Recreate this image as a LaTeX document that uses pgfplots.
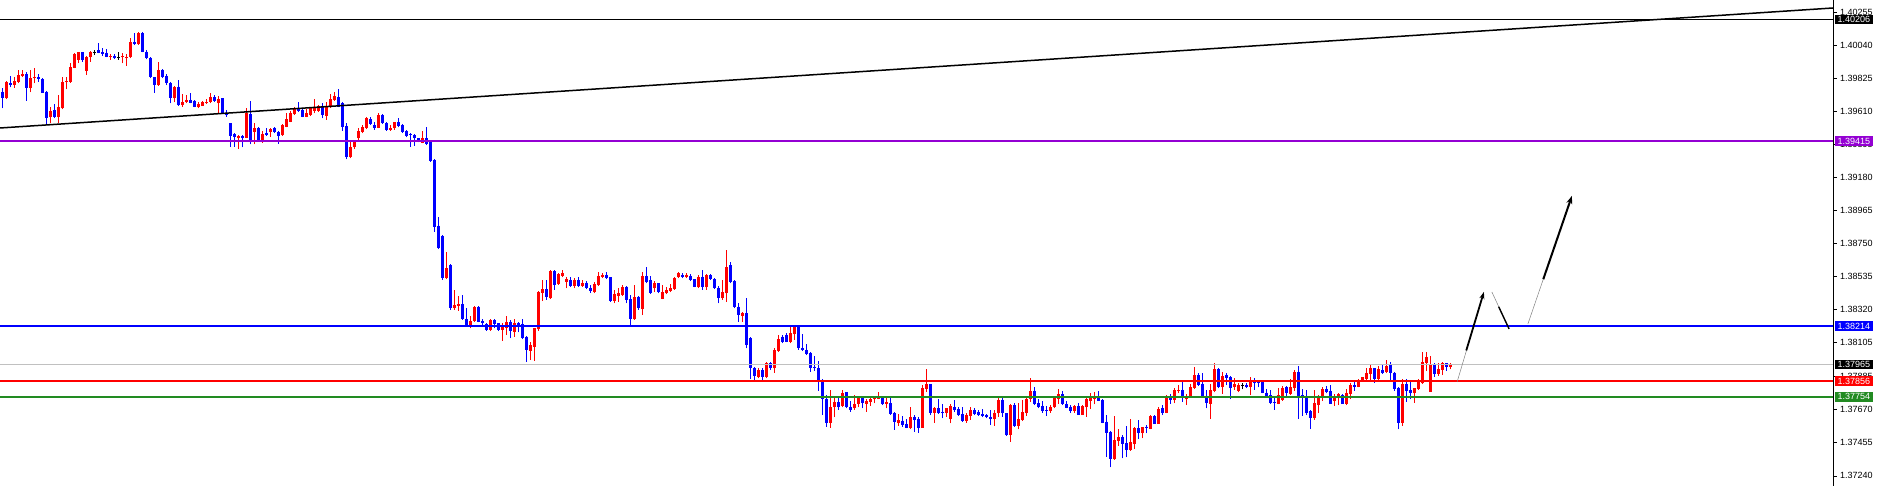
\documentclass[border=0pt]{standalone}
\usepackage{fontspec}
\setmainfont{Liberation Sans}
\usepackage{pgfplots}
\usepackage{pgfplotstable}
\pgfplotsset{compat=1.18}
\usetikzlibrary{arrows.meta}
\definecolor{mtblue}{RGB}{0,0,255}
\definecolor{mtred}{RGB}{255,0,0}
\definecolor{mtpurple}{RGB}{148,0,211}
\definecolor{mtgreen}{RGB}{34,139,34}
\definecolor{mtsilver}{RGB}{192,192,192}

\pgfplotstableread{
x o h l c
0 1.39737 1.39759 1.39629 1.39698
1 1.39694 1.39806 1.39689 1.39802
2 1.39791 1.39839 1.39765 1.39778
3 1.39780 1.39830 1.39763 1.39806
4 1.39802 1.39878 1.39791 1.39845
5 1.39839 1.39878 1.39830 1.39852
6 1.39852 1.39867 1.39679 1.39763
7 1.39763 1.39878 1.39733 1.39828
8 1.39824 1.39893 1.39791 1.39835
9 1.39830 1.39852 1.39802 1.39822
10 1.39819 1.39824 1.39731 1.39731
11 1.39737 1.39744 1.39527 1.39564
12 1.39570 1.39635 1.39531 1.39614
13 1.39618 1.39655 1.39564 1.39570
14 1.39570 1.39715 1.39531 1.39635
15 1.39629 1.39835 1.39622 1.39802
16 1.39798 1.39830 1.39752 1.39809
17 1.39802 1.39921 1.39796 1.39900
18 1.39893 1.39986 1.39889 1.39980
19 1.39943 1.39997 1.39921 1.39993
20 1.39993 1.39997 1.39932 1.39943
21 1.39874 1.39969 1.39845 1.39965
22 1.39960 1.40001 1.39932 1.39997
24 1.40008 1.40056 1.39986 1.39986
25 1.39993 1.40019 1.39969 1.39982
26 1.39991 1.40012 1.39960 1.39965
27 1.39965 1.39980 1.39943 1.39971
28 1.39969 1.39980 1.39949 1.39958
30 1.39960 1.39986 1.39921 1.39969
31 1.39954 1.39980 1.39906 1.39965
32 1.39960 1.40084 1.39954 1.40062
33 1.40060 1.40116 1.40040 1.40047
34 1.40045 1.40123 1.40040 1.40116
35 1.40116 1.40123 1.39993 1.39997
36 1.39997 1.40008 1.39947 1.39954
37 1.39958 1.39965 1.39824 1.39830
38 1.39830 1.39835 1.39731 1.39780
39 1.39780 1.39932 1.39774 1.39878
40 1.39878 1.39884 1.39824 1.39835
41 1.39839 1.39852 1.39780 1.39796
42 1.39796 1.39802 1.39661 1.39694
43 1.39694 1.39774 1.39668 1.39765
44 1.39770 1.39813 1.39644 1.39650
45 1.39650 1.39722 1.39640 1.39672
46 1.39668 1.39715 1.39661 1.39683
47 1.39683 1.39731 1.39661 1.39666
48 1.39679 1.39683 1.39635 1.39640
49 1.39635 1.39672 1.39629 1.39657
50 1.39646 1.39676 1.39644 1.39672
51 1.39666 1.39687 1.39657 1.39672
52 1.39670 1.39726 1.39661 1.39700
53 1.39700 1.39715 1.39672 1.39676
54 1.39661 1.39711 1.39596 1.39692
55 1.39694 1.39698 1.39590 1.39596
56 1.39596 1.39618 1.39575 1.39585
57 1.39531 1.39536 1.39380 1.39449
58 1.39460 1.39466 1.39380 1.39440
59 1.39434 1.39455 1.39364 1.39449
60 1.39449 1.39455 1.39375 1.39438
61 1.39438 1.39629 1.39434 1.39596
62 1.39590 1.39679 1.39395 1.39423
63 1.39477 1.39531 1.39395 1.39503
64 1.39503 1.39510 1.39423 1.39423
65 1.39419 1.39484 1.39406 1.39462
66 1.39466 1.39499 1.39449 1.39455
67 1.39477 1.39499 1.39445 1.39494
68 1.39503 1.39510 1.39471 1.39477
69 1.39473 1.39481 1.39397 1.39449
70 1.39455 1.39527 1.39449 1.39520
71 1.39510 1.39596 1.39505 1.39557
72 1.39542 1.39611 1.39538 1.39596
73 1.39590 1.39635 1.39585 1.39622
74 1.39622 1.39670 1.39607 1.39611
75 1.39618 1.39622 1.39570 1.39570
76 1.39575 1.39624 1.39570 1.39596
77 1.39585 1.39640 1.39579 1.39635
78 1.39614 1.39689 1.39596 1.39640
79 1.39614 1.39650 1.39607 1.39644
80 1.39644 1.39666 1.39564 1.39585
81 1.39579 1.39672 1.39553 1.39644
82 1.39640 1.39720 1.39633 1.39687
83 1.39683 1.39733 1.39679 1.39709
84 1.39700 1.39752 1.39635 1.39640
85 1.39661 1.39668 1.39484 1.39505
86 1.39514 1.39531 1.39297 1.39310
87 1.39310 1.39423 1.39304 1.39380
88 1.39375 1.39423 1.39364 1.39412
89 1.39434 1.39499 1.39423 1.39484
90 1.39477 1.39520 1.39466 1.39510
91 1.39499 1.39575 1.39492 1.39564
92 1.39559 1.39575 1.39520 1.39527
93 1.39520 1.39542 1.39488 1.39499
94 1.39503 1.39596 1.39499 1.39585
95 1.39585 1.39590 1.39527 1.39531
96 1.39531 1.39538 1.39484 1.39488
97 1.39488 1.39520 1.39484 1.39503
98 1.39499 1.39542 1.39488 1.39538
99 1.39538 1.39564 1.39505 1.39514
100 1.39520 1.39525 1.39471 1.39473
101 1.39484 1.39488 1.39440 1.39449
102 1.39462 1.39466 1.39380 1.39453
103 1.39455 1.39460 1.39386 1.39434
104 1.39434 1.39438 1.39408 1.39412
105 1.39406 1.39484 1.39401 1.39434
106 1.39434 1.39510 1.39390 1.39395
107 1.39412 1.39423 1.39282 1.39286
108 1.39293 1.39299 1.38827 1.38860
109 1.38866 1.38925 1.38714 1.38719
110 1.38799 1.38805 1.38513 1.38528
111 1.38524 1.38697 1.38519 1.38589
112 1.38610 1.38615 1.38318 1.38329
113 1.38333 1.38448 1.38318 1.38350
114 1.38344 1.38409 1.38314 1.38357
115 1.38357 1.38415 1.38253 1.38257
116 1.38259 1.38329 1.38210 1.38220
117 1.38214 1.38281 1.38199 1.38249
118 1.38249 1.38346 1.38242 1.38340
119 1.38340 1.38346 1.38238 1.38242
120 1.38246 1.38257 1.38210 1.38231
121 1.38225 1.38231 1.38184 1.38188
122 1.38188 1.38259 1.38181 1.38253
123 1.38253 1.38257 1.38199 1.38225
124 1.38231 1.38236 1.38181 1.38188
125 1.38188 1.38231 1.38119 1.38210
126 1.38199 1.38281 1.38155 1.38242
127 1.38242 1.38253 1.38134 1.38181
128 1.38177 1.38259 1.38145 1.38236
129 1.38236 1.38242 1.38173 1.38210
130 1.38225 1.38259 1.38127 1.38134
131 1.38145 1.38149 1.37982 1.38058
132 1.38054 1.38112 1.37993 1.38090
133 1.38080 1.38203 1.37989 1.38199
134 1.38192 1.38444 1.38184 1.38437
135 1.38431 1.38513 1.38376 1.38454
136 1.38452 1.38513 1.38383 1.38405
137 1.38394 1.38578 1.38389 1.38571
138 1.38571 1.38578 1.38448 1.38480
139 1.38485 1.38556 1.38480 1.38550
140 1.38539 1.38578 1.38530 1.38556
141 1.38502 1.38535 1.38459 1.38517
142 1.38513 1.38535 1.38470 1.38476
143 1.38474 1.38524 1.38459 1.38513
144 1.38513 1.38535 1.38470 1.38476
145 1.38476 1.38513 1.38470 1.38496
146 1.38496 1.38509 1.38452 1.38459
147 1.38463 1.38480 1.38431 1.38441
148 1.38433 1.38502 1.38426 1.38487
149 1.38480 1.38563 1.38474 1.38539
150 1.38535 1.38561 1.38524 1.38545
151 1.38545 1.38563 1.38519 1.38524
152 1.38530 1.38535 1.38372 1.38379
153 1.38379 1.38448 1.38361 1.38422
154 1.38409 1.38459 1.38372 1.38426
155 1.38415 1.38480 1.38411 1.38470
156 1.38470 1.38474 1.38361 1.38383
157 1.38389 1.38415 1.38220 1.38259
158 1.38257 1.38480 1.38253 1.38400
159 1.38405 1.38409 1.38318 1.38329
160 1.38324 1.38567 1.38285 1.38539
161 1.38539 1.38595 1.38491 1.38502
162 1.38513 1.38541 1.38422 1.38426
163 1.38459 1.38506 1.38433 1.38496
164 1.38491 1.38496 1.38426 1.38433
165 1.38389 1.38480 1.38387 1.38433
166 1.38426 1.38470 1.38420 1.38448
167 1.38441 1.38487 1.38433 1.38459
168 1.38452 1.38530 1.38448 1.38524
169 1.38530 1.38563 1.38524 1.38556
170 1.38545 1.38561 1.38524 1.38535
171 1.38530 1.38556 1.38524 1.38545
172 1.38539 1.38552 1.38506 1.38513
173 1.38517 1.38522 1.38465 1.38470
174 1.38465 1.38545 1.38459 1.38535
175 1.38535 1.38578 1.38448 1.38465
176 1.38465 1.38552 1.38448 1.38545
177 1.38545 1.38552 1.38513 1.38519
178 1.38519 1.38524 1.38454 1.38459
179 1.38459 1.38474 1.38361 1.38394
180 1.38394 1.38513 1.38383 1.38437
181 1.38426 1.38708 1.38372 1.38600
182 1.38610 1.38632 1.38491 1.38502
183 1.38506 1.38513 1.38329 1.38340
184 1.38340 1.38366 1.38242 1.38285
185 1.38281 1.38303 1.38242 1.38296
186 1.38296 1.38394 1.38069 1.38090
187 1.38134 1.38145 1.37869 1.37939
188 1.37939 1.37950 1.37863 1.37891
189 1.37885 1.37939 1.37874 1.37928
190 1.37928 1.37939 1.37863 1.37885
191 1.37885 1.37982 1.37874 1.37971
192 1.37971 1.37982 1.37928 1.37939
193 1.37939 1.38069 1.37911 1.38058
194 1.38054 1.38155 1.38047 1.38129
195 1.38145 1.38155 1.38101 1.38108
196 1.38155 1.38166 1.38108 1.38112
197 1.38112 1.38220 1.38101 1.38166
198 1.38160 1.38220 1.38123 1.38210
199 1.38210 1.38220 1.38058 1.38069
200 1.38069 1.38162 1.38051 1.38058
201 1.38058 1.38097 1.38025 1.38032
202 1.38041 1.38047 1.37917 1.37943
203 1.37950 1.38019 1.37924 1.37943
204 1.37939 1.37986 1.37794 1.37863
205 1.37856 1.37867 1.37635 1.37737
206 1.37737 1.37765 1.37560 1.37586
207 1.37586 1.37798 1.37553 1.37685
208 1.37685 1.37750 1.37620 1.37718
209 1.37718 1.37748 1.37668 1.37690
210 1.37694 1.37798 1.37685 1.37776
211 1.37783 1.37787 1.37679 1.37685
212 1.37690 1.37729 1.37657 1.37668
213 1.37679 1.37765 1.37668 1.37707
214 1.37707 1.37761 1.37685 1.37750
215 1.37748 1.37755 1.37679 1.37716
216 1.37707 1.37739 1.37657 1.37726
217 1.37722 1.37750 1.37694 1.37737
218 1.37737 1.37761 1.37711 1.37748
219 1.37742 1.37783 1.37737 1.37750
220 1.37750 1.37755 1.37700 1.37705
221 1.37707 1.37748 1.37679 1.37722
222 1.37711 1.37748 1.37635 1.37642
223 1.37646 1.37657 1.37538 1.37588
224 1.37581 1.37642 1.37564 1.37603
225 1.37599 1.37629 1.37560 1.37570
226 1.37577 1.37607 1.37549 1.37553
227 1.37549 1.37685 1.37542 1.37625
228 1.37625 1.37635 1.37527 1.37603
229 1.37609 1.37625 1.37521 1.37553
230 1.37553 1.37830 1.37553 1.37809
231 1.37804 1.37932 1.37787 1.37835
232 1.37835 1.37837 1.37635 1.37646
233 1.37651 1.37690 1.37586 1.37683
234 1.37679 1.37737 1.37642 1.37651
235 1.37657 1.37707 1.37614 1.37651
236 1.37651 1.37683 1.37625 1.37679
237 1.37607 1.37705 1.37581 1.37694
238 1.37690 1.37733 1.37657 1.37668
239 1.37674 1.37690 1.37629 1.37635
240 1.37642 1.37685 1.37592 1.37599
241 1.37599 1.37646 1.37586 1.37635
242 1.37631 1.37690 1.37603 1.37668
243 1.37668 1.37679 1.37635 1.37642
244 1.37653 1.37668 1.37629 1.37635
245 1.37642 1.37672 1.37620 1.37629
246 1.37633 1.37640 1.37614 1.37620
247 1.37625 1.37668 1.37570 1.37607
248 1.37607 1.37668 1.37564 1.37646
249 1.37646 1.37744 1.37625 1.37733
250 1.37733 1.37744 1.37625 1.37646
251 1.37646 1.37651 1.37499 1.37505
252 1.37505 1.37705 1.37462 1.37700
253 1.37700 1.37711 1.37560 1.37564
254 1.37564 1.37716 1.37542 1.37609
255 1.37603 1.37733 1.37596 1.37653
256 1.37651 1.37750 1.37629 1.37739
257 1.37737 1.37874 1.37722 1.37794
258 1.37794 1.37815 1.37700 1.37707
259 1.37711 1.37739 1.37679 1.37690
260 1.37694 1.37726 1.37651 1.37664
261 1.37668 1.37694 1.37629 1.37661
262 1.37664 1.37700 1.37651 1.37690
263 1.37685 1.37748 1.37679 1.37744
264 1.37739 1.37804 1.37707 1.37770
265 1.37770 1.37794 1.37700 1.37707
266 1.37707 1.37726 1.37679 1.37683
267 1.37690 1.37700 1.37651 1.37664
268 1.37661 1.37700 1.37651 1.37694
269 1.37694 1.37711 1.37635 1.37635
270 1.37635 1.37700 1.37635 1.37694
271 1.37685 1.37744 1.37625 1.37737
272 1.37726 1.37776 1.37674 1.37750
273 1.37739 1.37787 1.37705 1.37750
274 1.37755 1.37794 1.37726 1.37729
275 1.37733 1.37737 1.37581 1.37586
276 1.37592 1.37635 1.37365 1.37521
277 1.37527 1.37534 1.37295 1.37349
278 1.37349 1.37629 1.37343 1.37473
279 1.37469 1.37542 1.37436 1.37495
280 1.37495 1.37505 1.37354 1.37447
281 1.37451 1.37564 1.37360 1.37408
282 1.37408 1.37609 1.37404 1.37458
283 1.37447 1.37560 1.37414 1.37549
284 1.37549 1.37603 1.37479 1.37516
285 1.37521 1.37560 1.37484 1.37555
286 1.37560 1.37570 1.37516 1.37549
287 1.37544 1.37635 1.37542 1.37629
288 1.37629 1.37635 1.37577 1.37577
289 1.37577 1.37685 1.37577 1.37674
290 1.37679 1.37700 1.37635 1.37651
291 1.37651 1.37765 1.37646 1.37750
292 1.37750 1.37772 1.37707 1.37733
293 1.37733 1.37809 1.37711 1.37798
294 1.37791 1.37830 1.37776 1.37798
295 1.37798 1.37852 1.37722 1.37744
296 1.37737 1.37772 1.37700 1.37761
297 1.37755 1.37837 1.37750 1.37815
298 1.37813 1.37950 1.37804 1.37895
299 1.37895 1.37911 1.37826 1.37830
300 1.37835 1.37911 1.37748 1.37755
301 1.37761 1.37798 1.37679 1.37711
302 1.37707 1.37835 1.37609 1.37798
303 1.37794 1.37976 1.37783 1.37934
304 1.37934 1.37939 1.37809 1.37815
305 1.37820 1.37917 1.37772 1.37889
306 1.37895 1.37911 1.37830 1.37874
307 1.37880 1.37889 1.37739 1.37813
308 1.37815 1.37874 1.37798 1.37837
309 1.37794 1.37841 1.37783 1.37830
311 1.37830 1.37846 1.37809 1.37815
312 1.37820 1.37880 1.37765 1.37852
313 1.37852 1.37874 1.37798 1.37846
314 1.37852 1.37863 1.37815 1.37846
315 1.37852 1.37863 1.37776 1.37781
316 1.37781 1.37802 1.37750 1.37761
317 1.37765 1.37798 1.37707 1.37716
318 1.37722 1.37755 1.37668 1.37716
319 1.37707 1.37813 1.37705 1.37765
320 1.37733 1.37824 1.37729 1.37813
321 1.37815 1.37824 1.37759 1.37776
322 1.37772 1.37867 1.37765 1.37815
323 1.37809 1.37928 1.37794 1.37917
324 1.37917 1.37954 1.37609 1.37755
325 1.37765 1.37802 1.37629 1.37755
326 1.37755 1.37798 1.37635 1.37651
327 1.37661 1.37668 1.37544 1.37618
328 1.37618 1.37798 1.37603 1.37711
329 1.37700 1.37765 1.37646 1.37755
330 1.37755 1.37815 1.37726 1.37802
331 1.37802 1.37824 1.37776 1.37787
332 1.37794 1.37830 1.37707 1.37707
333 1.37726 1.37770 1.37694 1.37755
334 1.37755 1.37781 1.37700 1.37770
335 1.37765 1.37772 1.37707 1.37707
336 1.37707 1.37802 1.37700 1.37776
337 1.37770 1.37841 1.37739 1.37830
338 1.37828 1.37859 1.37794 1.37820
339 1.37820 1.37869 1.37815 1.37852
340 1.37863 1.37885 1.37852 1.37880
341 1.37869 1.37939 1.37859 1.37911
342 1.37902 1.37960 1.37863 1.37939
343 1.37939 1.37943 1.37846 1.37869
344 1.37869 1.37954 1.37863 1.37934
345 1.37928 1.37967 1.37902 1.37911
346 1.37913 1.37993 1.37906 1.37954
347 1.37960 1.37982 1.37863 1.37911
348 1.37911 1.37917 1.37794 1.37804
349 1.37813 1.37820 1.37542 1.37586
350 1.37586 1.37867 1.37564 1.37835
351 1.37837 1.37867 1.37722 1.37791
352 1.37798 1.37852 1.37737 1.37776
353 1.37776 1.37813 1.37716 1.37809
354 1.37802 1.37869 1.37798 1.37859
355 1.37841 1.38047 1.37837 1.37978
356 1.37976 1.38043 1.37921 1.38010
357 1.37787 1.38019 1.37787 1.37967
358 1.37965 1.37976 1.37885 1.37902
359 1.37902 1.37971 1.37889 1.37932
360 1.37928 1.37978 1.37895 1.37971
361 1.37971 1.37976 1.37924 1.37950
362 1.37950 1.37976 1.37932 1.37965
}\candles

\pgfplotstableread{
x o h l c
23 1.39993 1.40008 1.39975 1.39993
29 1.39958 1.39997 1.39943 1.39958
310 1.37826 1.37846 1.37802 1.37826
}\dojis

\pgfplotsset{
  upc/.style={x filter/.expression={\thisrow{c}>\thisrow{o} ? x : nan}},
  dnc/.style={x filter/.expression={\thisrow{c}<\thisrow{o} ? x : nan}},
}

\tikzset{lvl/.style={anchor=west, text=white, font=\fontsize{9}{10}\selectfont,
  inner xsep=3pt, inner ysep=1.6pt, xshift=1.5pt}}

\begin{document}
\begin{tikzpicture}
\useasboundingbox (0,0) rectangle (1880pt,486pt);
\begin{axis}[
  at={(0,0)}, anchor=south west,
  scale only axis, width=1833pt, height=486pt,
  xmin=-0.575, xmax=457.675, ymin=1.37174, ymax=1.40333,
  axis x line=none, axis y line*=right,
  axis line style={black, line width=0.8pt, -},
  ytick={1.37240,1.37455,1.37670,1.37885,1.38105,1.38320,1.38535,1.38750,1.38965,1.39180,1.39395,1.39610,1.39825,1.40040,1.40255},
  yticklabels={1.37240,1.37455,1.37670,1.37885,1.38105,1.38320,1.38535,1.38750,1.38965,1.39180,1.39395,1.39610,1.39825,1.40040,1.40255},
  tick align=outside, major tick length=4pt,
  ytick style={black, line width=0.6pt},
  yticklabel style={font=\fontsize{9}{10}\selectfont, anchor=west, inner sep=0pt, xshift=3pt},
  clip=false,
]
% wicks
\addplot[mtred, line width=1pt, quiver={u=0, v=\thisrow{h}-\thisrow{l}}, upc] table[x=x, y=l] {\candles};
\addplot[mtblue, line width=1pt, quiver={u=0, v=\thisrow{h}-\thisrow{l}}, dnc] table[x=x, y=l] {\candles};
% bodies
\addplot[mtred, line width=3pt, quiver={u=0, v=\thisrow{c}-\thisrow{o}}, upc] table[x=x, y=o] {\candles};
\addplot[mtblue, line width=3pt, quiver={u=0, v=\thisrow{c}-\thisrow{o}}, dnc] table[x=x, y=o] {\candles};
% doji
\addplot[black, line width=1pt, quiver={u=0, v=\thisrow{h}-\thisrow{l}}] table[x=x, y=l] {\dojis};
\addplot[black, only marks, mark=-, mark size=1.6pt, mark options={line width=1pt}] table[x=x, y=o] {\dojis};

% level lines
\addplot[mtsilver, line width=1pt] coordinates {(-0.575,1.37965) (457.675,1.37965)};
\addplot[black, line width=1.5pt] coordinates {(-0.575,1.40206) (457.675,1.40206)};
\addplot[mtpurple, line width=1.7pt] coordinates {(-0.575,1.39415) (457.675,1.39415)};
\addplot[mtblue, line width=1.7pt] coordinates {(-0.575,1.38214) (457.675,1.38214)};
\addplot[mtred, line width=1.7pt] coordinates {(-0.575,1.37856) (457.675,1.37856)};
\addplot[mtgreen, line width=1.7pt] coordinates {(-0.575,1.37754) (457.675,1.37754)};
% trend line
\addplot[black, line width=1.5pt] coordinates {(-0.575,1.39501) (457.675,1.40281)};

% projection arrows
\addplot[gray, line width=0.5pt] coordinates {(363.7,1.37850) (370.4,1.38435)};
\addplot[black, line width=1.8pt, -{Stealth[length=7pt,width=5pt]}] coordinates {(366.0,1.38055) (370.4,1.38435)};
\addplot[gray, line width=0.5pt] coordinates {(372.4,1.38435) (376.7,1.38195)};
\addplot[black, line width=1.4pt] coordinates {(374.1,1.38339) (376.7,1.38195)};
\addplot[gray, line width=0.5pt] coordinates {(381.4,1.38227) (392.4,1.39059)};
\addplot[black, line width=2pt, -{Stealth[length=8pt,width=6pt]}] coordinates {(385.25,1.38518) (392.4,1.39059)};

\coordinate (L1) at (axis cs:457.675,1.40206);
\coordinate (L2) at (axis cs:457.675,1.39415);
\coordinate (L3) at (axis cs:457.675,1.38214);
\coordinate (L4) at (axis cs:457.675,1.37965);
\coordinate (L5) at (axis cs:457.675,1.37856);
\coordinate (L6) at (axis cs:457.675,1.37754);
\end{axis}
\node[lvl, fill=black] at (L1) {1.40206};
\node[lvl, fill=mtpurple] at (L2) {1.39415};
\node[lvl, fill=mtblue] at (L3) {1.38214};
\node[lvl, fill=black] at (L4) {1.37965};
\node[lvl, fill=mtred] at (L5) {1.37856};
\node[lvl, fill=mtgreen] at (L6) {1.37754};
\end{tikzpicture}
\end{document}
